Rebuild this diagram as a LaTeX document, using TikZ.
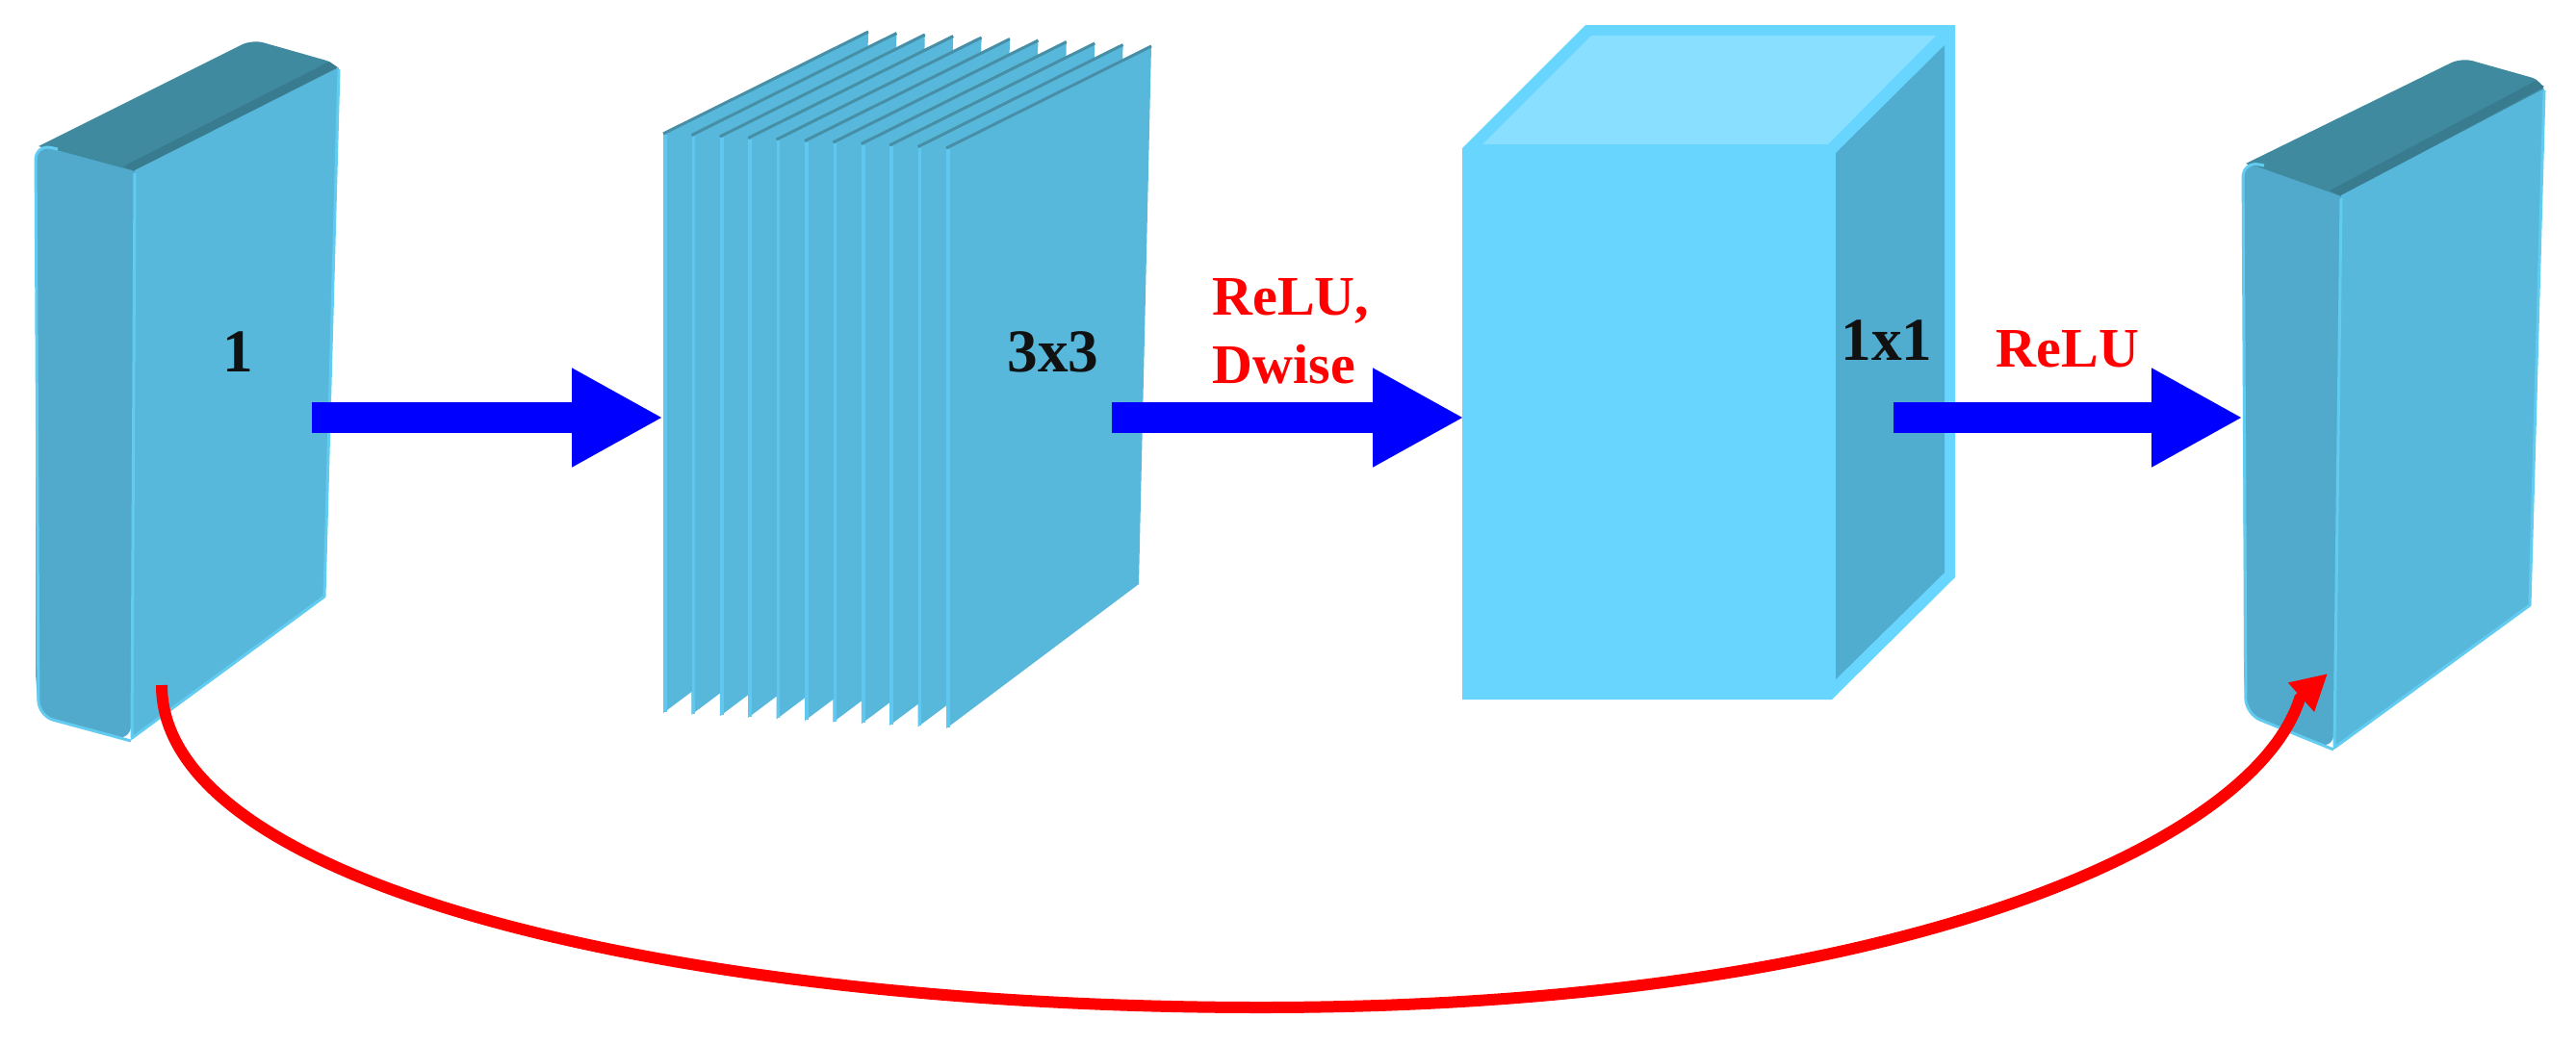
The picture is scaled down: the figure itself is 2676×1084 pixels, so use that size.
\documentclass[tikz,border=0pt]{standalone}
\usepackage{fontspec}
\setmainfont{Liberation Serif}
\usetikzlibrary{arrows.meta}
\definecolor{slabmain}{HTML}{58B8DC}
\definecolor{slabside}{HTML}{51AACC}
\definecolor{slabtop}{HTML}{408A9F}
\definecolor{slabridge}{HTML}{397B8F}
\definecolor{slabedge}{HTML}{62CBF0}
\definecolor{sheetfill}{HTML}{58B8DC}
\definecolor{sheetlight}{HTML}{60C8EE}
\definecolor{sheetdark}{HTML}{468FA6}
\definecolor{cubefront}{HTML}{67D5FD}
\definecolor{cubetop}{HTML}{88DFFF}
\definecolor{cuberight}{HTML}{51ADCF}
\definecolor{arrowblue}{HTML}{0000FF}
\definecolor{skipred}{HTML}{FF0000}
\definecolor{lblblack}{HTML}{111111}
\tikzset{
  blacklbl/.style={font=\fontsize{18}{21}\selectfont\bfseries, text=lblblack, inner sep=0pt, anchor=base},
  redlbl/.style={font=\fontsize{16.5}{20}\selectfont\bfseries, text=skipred, inner sep=0pt, anchor=base},
  flowarrow/.style={draw=arrowblue, line width=3.2mm, -{Triangle[length=9.5mm,width=9.6mm]}},
  skiparrow/.style={draw=skipred, line width=1.2mm, -{Triangle[length=3.7mm,width=3.8mm]}},
  rim/.style={draw=slabedge, line width=0.3mm, line join=round},
  sheetface/.style={fill=sheetfill},
}
\begin{document}
\begin{tikzpicture}[x=0.1mm,y=-0.1mm]
\useasboundingbox (0,0) rectangle (2676,1084);
\fill[white] (0,0) rectangle (2676,1084);

% ---------- slab 1 (input) ----------
\fill[slabtop] (40,152) [rounded corners=1.2mm] -- (262,41) -- (350,66) [sharp corners] -- (352,74) -- (140,180) -- cycle;
\fill[slabridge] (140,178) -- (351,70) -- (342,64) -- (128,173) -- cycle;
\fill[slabside] (37,170) [rounded corners=1.6mm] -- (37,150) [sharp corners] -- (140,178) [rounded corners=1.6mm] -- (136,770) -- (40,744) [sharp corners] -- (37,700) -- cycle;
\draw[rim, rounded corners=1.6mm] (60,155) -- (37,150) -- (40,744) -- (136,770);
\fill[slabmain] (140,177) -- (352,70) -- (337,620) -- (136,769) -- cycle;
\draw[rim] (140,180) -- (137,767) -- (337,620) -- (352,72);

% ---------- stack of sheets (3x3) ----------
\foreach \i in {0,...,10} {
  \pgfmathsetmacro\xl{689+29.4*\i}
  \pgfmathsetmacro\yt{139+1.5*\i}
  \pgfmathsetmacro\yb{741+1.6*\i}
  \fill[sheetface] (\xl,\yt) -- (\xl+213,\yt-106) -- (\xl+200,\yb-150) -- (\xl,\yb) -- cycle;
  \draw[sheetdark, line width=0.3mm] (\xl,\yt) -- (\xl+213,\yt-106);
  \draw[sheetlight, line width=0.35mm] (\xl+2,\yt+1) -- (\xl+2,\yb-1);
}

% ---------- cube (1x1) ----------
\fill[cubefront] (1519,154) -- (1647,26) -- (2031,26) -- (2031,600) -- (1903,727) -- (1519,727) -- cycle;
\fill[cubetop] (1540,150) -- (1653,37) -- (2011,37) -- (1899,150) -- cycle;
\fill[cuberight] (1907,159) -- (2020,47) -- (2020,595) -- (1907,706) -- cycle;

% ---------- slab 4 (output) ----------
\fill[slabtop] (2333,170) [rounded corners=1.2mm] -- (2557,60) -- (2642,84) [sharp corners] -- (2643,96) -- (2432,207) -- cycle;
\fill[slabridge] (2432,204) -- (2643,90) -- (2634,84) -- (2420,198) -- cycle;
\fill[slabside] (2330,190) [rounded corners=1.6mm] -- (2330,168) [sharp corners] -- (2432,204) [rounded corners=1.6mm] -- (2424,779) -- (2333,742) [sharp corners] -- (2331,700) -- cycle;
\draw[rim, rounded corners=1.6mm] (2352,172) -- (2330,168) -- (2333,742) -- (2424,779);
\fill[slabmain] (2432,203) -- (2643,92) -- (2628,629) -- (2424,779) -- cycle;
\draw[rim] (2432,206) -- (2425,777) -- (2628,629) -- (2643,94);

% ---------- labels ----------
\node[blacklbl] (lblOne) at (247,386) {1};
\node[blacklbl] (lblThree) at (1094,386) {3x3};
\node[blacklbl] (lblOneOne) at (1960,374) {1x1};
\node[redlbl] (lblReluA) at (1341,327) {ReLU,};
\node[redlbl] (lblDwise) at (1334,398) {Dwise};
\node[redlbl] (lblReluB) at (2148,381) {ReLU};

% ---------- flow arrows ----------
\coordinate (aOneS) at (324,434);
\coordinate (aOneE) at (689,434);
\coordinate (aTwoS) at (1155,434);
\coordinate (aTwoE) at (1521,434);
\coordinate (aThreeS) at (1967,434);
\coordinate (aThreeE) at (2330,434);
\draw[flowarrow] (aOneS) -- (aOneE);
\draw[flowarrow] (aTwoS) -- (aTwoE);
\draw[flowarrow] (aThreeS) -- (aThreeE);

% ---------- skip connection ----------
\coordinate (skipS) at (168,712);
\coordinate (skipK) at (2389,726);
\coordinate (skipE) at (2418,700);
\draw[skiparrow] (skipS) .. controls (168,925) and (720,1047) .. (1310,1047)
  .. controls (1960,1047) and (2340,880) .. (skipK) -- (skipE);
\end{tikzpicture}
\end{document}
